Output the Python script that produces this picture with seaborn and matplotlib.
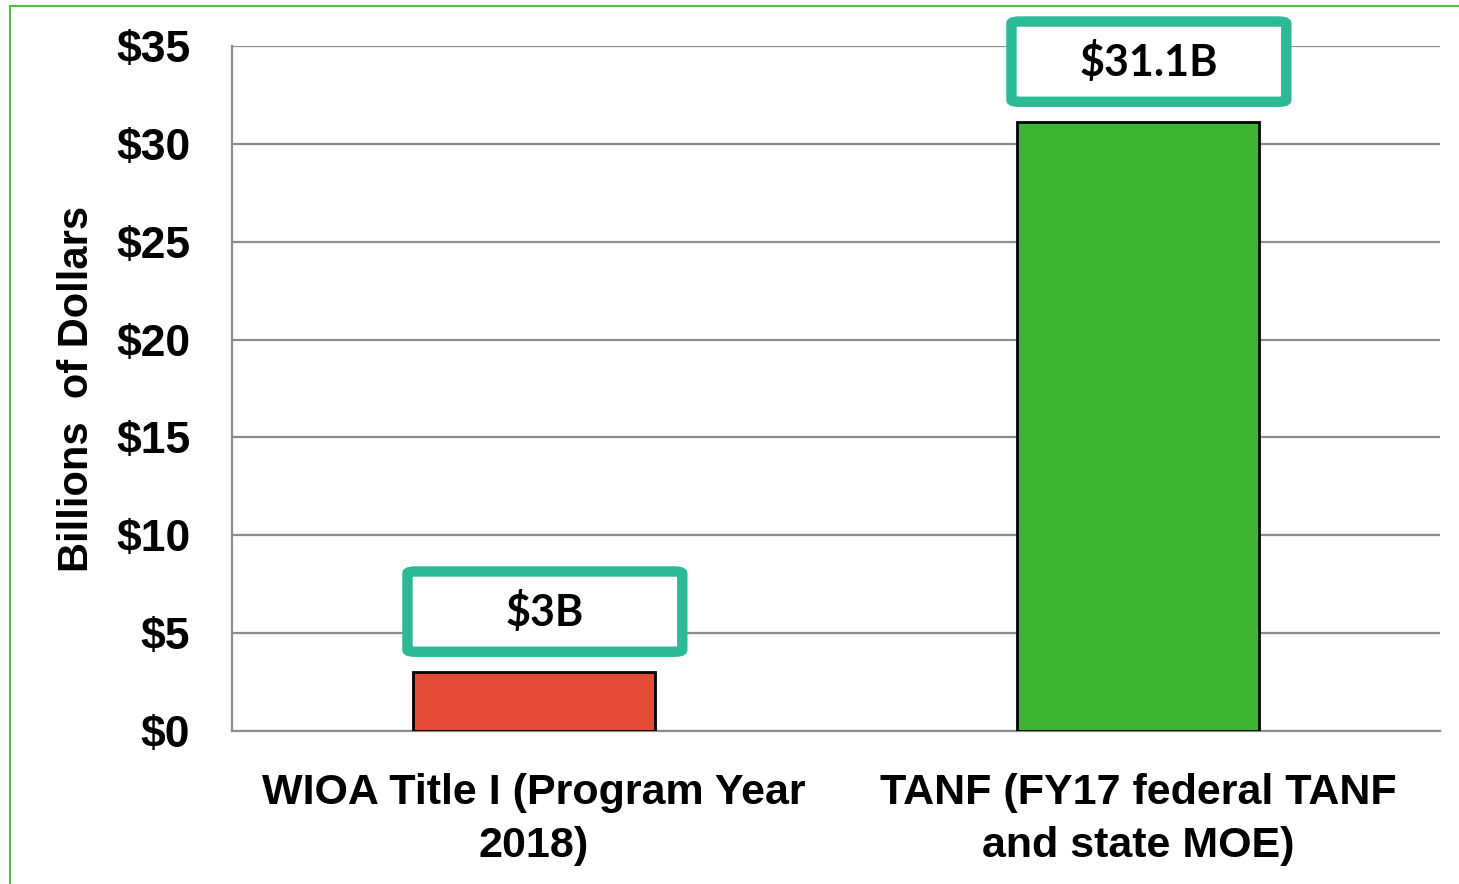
import matplotlib
matplotlib.use("Agg")
import matplotlib.pyplot as plt
import seaborn as sns
import pandas as pd
from matplotlib.patches import FancyBboxPatch, Rectangle

categories = ["WIOA Title I (Program Year\n2018)", "TANF (FY17 federal TANF\nand state MOE)"]
values = [3.0, 31.1]
labels = ["$3B", "$31.1B"]
bar_colors = ["#E34B36", "#3DB332"]
yticks = [0, 5, 10, 15, 20, 25, 30, 35]
ytick_labels = ["$0", "$5", "$10", "$15", "$20", "$25", "$30", "$35"]

sns.set_theme(style="white")
plt.rcParams['font.family'] = ['Liberation Sans', 'DejaVu Sans']
plt.rcParams['text.color'] = 'black'
plt.rcParams['xtick.color'] = 'black'
plt.rcParams['ytick.color'] = 'black'
plt.rcParams['axes.labelcolor'] = 'black'

fig = plt.figure(figsize=(14.59, 8.84), dpi=100)
ax = fig.add_axes([232/1459, 1-731/884, (1440-232)/1459, (731-46)/884])

df = pd.DataFrame({"cat": categories, "val": values})
sns.barplot(data=df, x="cat", y="val", hue="cat", palette=bar_colors, legend=False,
            width=0.4, saturation=1, edgecolor="black", linewidth=2, ax=ax, zorder=3)

ax.set_xlim(-0.5, 1.5)
ax.set_ylim(0, 35)
ax.set_yticks(yticks)
ax.set_yticklabels(ytick_labels, fontsize=32, fontweight="bold")
ax.tick_params(axis="y", length=0, pad=30)
ax.tick_params(axis="x", length=0, pad=30)
for t in ax.get_xticklabels():
    t.set_fontsize(31)
    t.set_fontweight("bold")
    t.set_linespacing(1.42)
ax.set_xlabel("")
ax.set_ylabel("Billions  of Dollars", fontsize=30, fontweight="bold")
ax.yaxis.set_label_coords(-0.112, 0.5)
ax.yaxis.grid(True, color="#8C8C8C", linewidth=1.6, zorder=0)
ax.set_axisbelow(True)
for s in ["top", "right"]:
    ax.spines[s].set_visible(False)
ax.spines["left"].set_color("#8C8C8C")
ax.spines["left"].set_linewidth(1.6)
ax.spines["bottom"].set_color("#8C8C8C")
ax.spines["bottom"].set_linewidth(1.6)

# label boxes
box_w = 0.455
box_h = 4.1
for patch, v, lab in zip(ax.patches, values, labels):
    cx = patch.get_x() + patch.get_width() / 2 + 0.018
    y0 = v + 1.05
    box = FancyBboxPatch((cx - box_w/2, y0), box_w, box_h,
                         boxstyle="round,pad=0,rounding_size=0.014",
                         mutation_aspect=8,
                         facecolor="white", edgecolor="#2BB996", linewidth=7.5,
                         clip_on=False, zorder=5)
    ax.add_patch(box)
    ax.text(cx, y0 + box_h/2, lab, ha="center", va="center", fontsize=31,
            fontweight="bold", family=["Lato", "DejaVu Sans"], zorder=6, clip_on=False)

# outer green frame
fig.patches.append(Rectangle((10/1459, -0.01), 1.1, 1 - 6/884 + 0.01, transform=fig.transFigure,
                             fill=False, edgecolor="#4CC23F", linewidth=1.5))

fig.savefig("out.png", dpi=100)
